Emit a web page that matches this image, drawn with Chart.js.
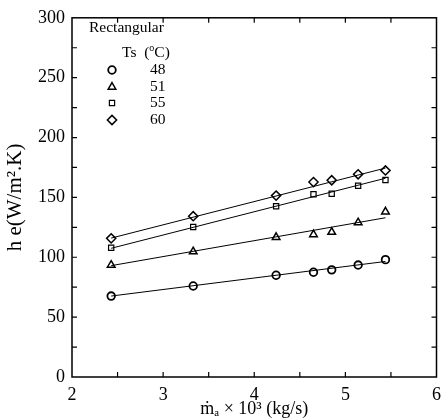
<!DOCTYPE html>
<html>
<head>
<meta charset="utf-8">
<script src="https://cdn.jsdelivr.net/npm/chart.js@4/dist/chart.umd.min.js"></script>
<style>
  html, body { margin: 0; padding: 0; background: #fff; }
  #wrap { width: 448px; height: 420px; }
</style>
</head>
<body>
<div id="wrap"><canvas id="c" width="448" height="420"></canvas></div>
<script>
// mass flow rate x 10^3 (kg/s)
const massFlow = [2.43, 3.33, 4.24, 4.65, 4.85, 5.14, 5.44];
// h_e values for each surface temperature
const he48 = [67.6, 76.0, 85.0, 87.5, 89.5, 93.5, 98.0];
const he51 = [93.5, 104.7, 116.7, 119.0, 121.0, 129.0, 138.0];
const he55 = [108.0, 125.3, 142.6, 152.6, 153.0, 159.8, 164.6];
const he60 = [115.8, 134.3, 151.5, 162.8, 164.3, 169.3, 172.5];
// fitted lines (ends)
const fitX = [2.43, 5.44];
const fit48 = [67.6, 96.5];
const fit51 = [93.0, 133.0];
const fit55 = [107.5, 166.0];
const fit60 = [116.0, 174.5];

const tempLabels = ['48', '51', '55', '60'];
const xTicks = [2, 3, 4, 5, 6];
const yTicks = [0, 50, 100, 150, 200, 250, 300];

const serif = "'Liberation Serif', 'Times New Roman', serif";

function pts(xs, ys) {
  return xs.map((x, i) => ({ x: x, y: ys[i] }));
}

const markers = [
  { style: 'circle', radius: 3.8, width: 1.8 },
  { style: 'triangle', radius: 4.4, width: 1.5 },
  { style: 'rect', radius: 3.7, width: 1.2 },
  { style: 'rectRot', radius: 4.6, width: 1.5 },
];

const seriesData = [he48, he51, he55, he60];
const fitData = [fit48, fit51, fit55, fit60];

const datasets = [];
fitData.forEach((f) => {
  datasets.push({
    data: pts(fitX, f),
    showLine: true,
    borderColor: '#000',
    borderWidth: 1,
    pointRadius: 0,
    fill: false,
  });
});
seriesData.forEach((s, i) => {
  datasets.push({
    data: pts(massFlow, s),
    showLine: false,
    pointStyle: markers[i].style,
    pointRadius: markers[i].radius,
    pointBorderWidth: markers[i].width,
    pointBorderColor: '#000',
    pointBackgroundColor: 'rgba(0,0,0,0)',
  });
});

// inward tick marks on all four sides
const innerTicks = {
  id: 'innerTicks',
  afterDraw(chart) {
    const { ctx, chartArea: a } = chart;
    const xs = chart.scales.x, ys = chart.scales.y;
    const len = 5;
    ctx.save();
    ctx.strokeStyle = '#000';
    ctx.lineWidth = 1.2;
    ctx.beginPath();
    for (let v = 2.5; v < 6; v += 0.5) {
      const px = xs.getPixelForValue(v);
      ctx.moveTo(px, a.bottom); ctx.lineTo(px, a.bottom - len);
      ctx.moveTo(px, a.top); ctx.lineTo(px, a.top + len);
    }
    for (let v = 25; v < 300; v += 25) {
      const py = ys.getPixelForValue(v);
      ctx.moveTo(a.left, py); ctx.lineTo(a.left + len, py);
      ctx.moveTo(a.right, py); ctx.lineTo(a.right - len, py);
    }
    ctx.stroke();
    ctx.lineWidth = 1.5;
    ctx.strokeRect(a.left, a.top, a.right - a.left, a.bottom - a.top);
    ctx.restore();
  }
};

// legend drawn inside the plot
const innerLegend = {
  id: 'innerLegend',
  afterDraw(chart) {
    const { ctx } = chart;
    ctx.save();
    ctx.fillStyle = '#000';
    ctx.textBaseline = 'middle';
    ctx.font = '15.5px ' + serif;
    ctx.fillText('Rectangular', 89, 28);
    // "Ts  (oC)" with superscript o
    let x = 122;
    ctx.fillText('Ts  (', x, 53);
    x += ctx.measureText('Ts  (').width;
    ctx.font = '10px ' + serif;
    ctx.fillText('o', x, 48);
    x += ctx.measureText('o').width;
    ctx.font = '15.5px ' + serif;
    ctx.fillText('C)', x, 53);

    const rowY = [70, 87, 103, 120];
    tempLabels.forEach((lab, i) => {
      const m = markers[i];
      ctx.strokeStyle = '#000';
      ctx.fillStyle = 'rgba(0,0,0,0)';
      ctx.lineWidth = m.width;
      Chart.helpers.drawPoint(ctx, {
        pointStyle: m.style,
        radius: m.radius,
        borderWidth: m.width,
        rotation: 0,
      }, 112, rowY[i]);
      ctx.fillStyle = '#000';
      ctx.font = '15.5px ' + serif;
      ctx.fillText(lab, 150, rowY[i]);
    });
    ctx.restore();
  }
};

new Chart(document.getElementById('c'), {
  type: 'scatter',
  data: { datasets: datasets },
  options: {
    responsive: false,
    animation: false,
    layout: { padding: { top: 7, right: 7, left: 0, bottom: 0 } },
    plugins: {
      legend: { display: false },
      tooltip: { enabled: false },
    },
    scales: {
      x: {
        type: 'linear',
        min: 2,
        max: 6,
        afterFit(scale) { scale.height = 43; },
        afterBuildTicks(scale) { scale.ticks = xTicks.map((v) => ({ value: v })); },
        grid: { drawOnChartArea: false, drawTicks: false },
        border: { display: false },
        ticks: {
          color: '#000',
          padding: 7,
          font: { family: serif, size: 18 },
        },
        title: {
          display: true,
          text: 'ṁₐ × 10³ (kg/s)',
          color: '#000',
          font: { family: serif, size: 18 },
          padding: { top: 0, bottom: 0 },
        },
      },
      y: {
        type: 'linear',
        min: 0,
        max: 300,
        afterFit(scale) { scale.width = 72; },
        afterBuildTicks(scale) { scale.ticks = yTicks.map((v) => ({ value: v })); },
        grid: { drawOnChartArea: false, drawTicks: false },
        border: { display: false },
        ticks: {
          color: '#000',
          padding: 7,
          font: { family: serif, size: 18 },
        },
        title: {
          display: true,
          text: 'h e(W/m².K)',
          color: '#000',
          font: { family: serif, size: 21 },
          padding: { top: 3, bottom: 0 },
        },
      },
    },
  },
  plugins: [innerTicks, innerLegend],
});
</script>
</body>
</html>
